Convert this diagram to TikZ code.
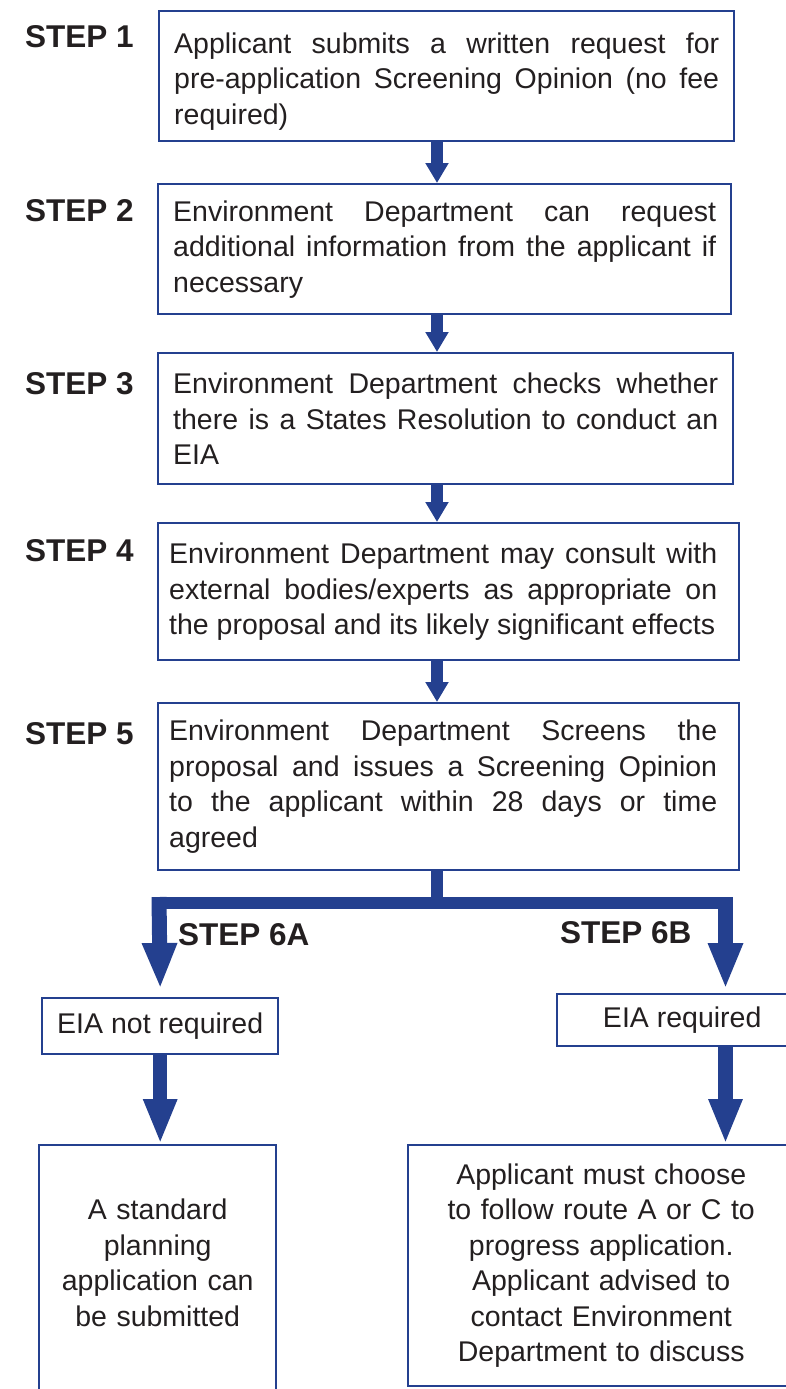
\documentclass[tikz,border=0pt]{standalone}
\usepackage{fontspec}
\setmainfont{Liberation Sans}
\usepackage{xcolor}
\usetikzlibrary{arrows.meta,positioning}
\definecolor{flowblue}{RGB}{36,64,143}
\definecolor{flowtext}{RGB}{35,31,32}
\newcommand{\boxtxt}{\fontsize{28.5}{35.5}\selectfont}
\newcommand{\steptxt}{\fontsize{31.5}{36}\selectfont\bfseries}
\newcommand{\wideblock}[1]{\begin{minipage}{548pt}#1\end{minipage}\hspace*{11pt}}
\tolerance=10000
\hyphenpenalty=10000

\begin{document}
\begin{tikzpicture}[x=1pt,y=-1pt,
                    stepbox/.style={draw=flowblue, line width=2.4pt, anchor=north west, inner xsep=15pt, align=justify, text=flowtext, font=\boxtxt},
                    widebox/.style={draw=flowblue, line width=2.4pt, anchor=north west, inner xsep=11pt, text=flowtext, font=\boxtxt},
                    endbox/.style={draw=flowblue, line width=2.4pt, anchor=north west, inner sep=0pt, align=center, text=flowtext, font=\boxtxt},
                    steplabel/.style={anchor=base west, inner sep=0pt, text=flowtext, font=\steptxt},
                    flow/.style={flowblue, line width=12pt, -{Triangle[width=22pt,length=20pt]}},
                    branch/.style={flowblue, line width=15pt, -{Triangle[width=32pt,length=46pt]}},
                    branchtwo/.style={flowblue, line width=14.5pt, -{Triangle[width=31pt,length=45pt]}},
                    bar/.style={flowblue, line width=12pt},
                   ]

\useasboundingbox (0,0) rectangle (785,1389);

\coordinate (spine) at (437,0);

% the five steps
\node[stepbox, text width=545pt, minimum height=130pt] (s1) at (158,10)
  {\rule{0pt}{31pt}Applicant submits a written request for\linebreak pre-application Screening Opinion (no fee\linebreak required)};
\node[stepbox, text width=543pt, minimum height=130pt] (s2) at (157,183)
  {Environment Department can request\linebreak additional information from the applicant if\linebreak necessary};
\node[stepbox, text width=545pt, minimum height=131pt] (s3) at (157,352)
  {Environment Department checks whether\linebreak there is a States Resolution to conduct an\linebreak EIA};
\node[widebox, minimum height=137pt] (s4) at (157,522)
  {\wideblock{Environment Department may consult with\linebreak external bodies/experts as appropriate on\linebreak the proposal and its likely significant effects}};
\node[widebox, minimum height=167pt] (s5) at (157,702)
  {\wideblock{Environment Department Screens the\linebreak proposal and issues a Screening Opinion\linebreak to the applicant within 28 days or time\linebreak agreed}};

\node[steplabel] (l1) at (25,48) {STEP 1};
\node[steplabel] (l2) at (25,221) {STEP 2};
\node[steplabel] (l3) at (25,394) {STEP 3};
\node[steplabel] (l4) at (25,561) {STEP 4};
\node[steplabel] (l5) at (25,744) {STEP 5};

\draw[flow] (s1.south -| spine) -- (s2.north -| spine);
\draw[flow] (s2.south -| spine) -- (s3.north -| spine);
\draw[flow] (s3.south -| spine) -- (s4.north -| spine);
\draw[flow] (s4.south -| spine) -- (s5.north -| spine);

% the two outcomes
\node[endbox, minimum width=236pt, minimum height=56pt] (noreq) at (41,997) {EIA not required};
\node[endbox, minimum width=250pt, minimum height=52pt] (req) at (556,993) {EIA required};
\node[endbox, text width=237pt, minimum height=290pt] (plan) at (38,1144)
  {A standard\\planning\\application can\\be submitted\\[20pt]\mbox{}};
\node[endbox, text width=386pt, minimum height=241pt] (advice) at (407,1144)
  {Applicant must choose\\to follow route A or C to\\progress application.\\Applicant advised to\\contact Environment\\Department to discuss};

\node[steplabel] (l6a) at (178,945) {STEP 6A};
\node[steplabel] (l6b) at (560,943) {STEP 6B};

\coordinate (fork) at (437,903);
\coordinate (forkL) at (152,903);
\coordinate (forkR) at (733,903);
\coordinate (topL) at (159,897);
\coordinate (topR) at (725.5,897);

\draw[bar] (s5.south -| spine) -- (fork);
\draw[bar] (forkL) -- (forkR);
\draw[branch] (topL) -- ([yshift=8pt]noreq.north);
\draw[branch] (topR) -- ([yshift=4pt]topR |- req.north);

\draw[branchtwo] (noreq.south) -- (noreq.south |- plan.north);
\draw[branchtwo] (req.south -| topR) -- (topR |- advice.north);

\end{tikzpicture}
\end{document}
